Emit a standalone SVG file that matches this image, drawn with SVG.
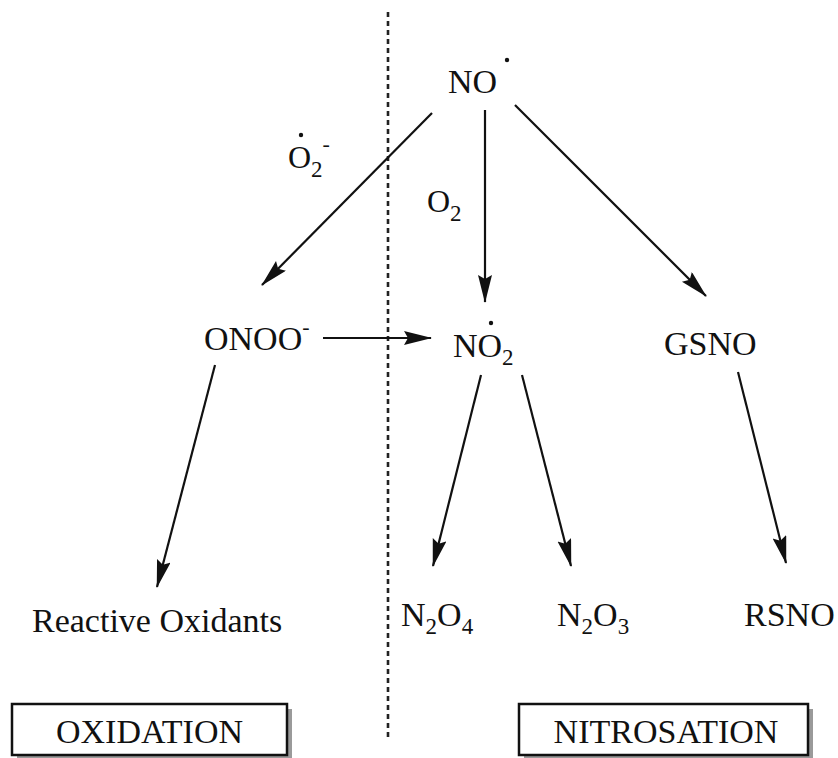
<svg xmlns="http://www.w3.org/2000/svg" width="838" height="758" viewBox="0 0 838 758">
<style>
text{font-family:"Liberation Serif","DejaVu Serif","Times New Roman",serif;font-size:34px;fill:#111}
.sub{font-size:23px}
.sup{font-size:22px}
.arr{stroke:#111;stroke-width:2.2;fill:none;marker-end:url(#ah)}
.box{fill:#fff;stroke:#111;stroke-width:2.5}
.shadow{fill:#9a9a9a}
.dot{fill:#111}
</style>
<defs>
<marker id="ah" markerUnits="userSpaceOnUse" markerWidth="30" markerHeight="16" refX="27" refY="7" orient="auto">
<path d="M0,0 L28,7 L0,14 L4,7 Z" fill="#111"/>
</marker>
</defs>
<rect width="838" height="758" fill="#fff"/>
<line id="divider" x1="388" y1="12" x2="388" y2="738" stroke="#222" stroke-width="2.6" stroke-dasharray="5 4"/>
<g id="connectors">
<line class="arr" x1="432" y1="113" x2="262" y2="285"/>
<line class="arr" x1="485" y1="110" x2="485" y2="302"/>
<line class="arr" x1="515" y1="105" x2="706" y2="296"/>
<line class="arr" x1="323" y1="338" x2="431" y2="338"/>
<line class="arr" x1="215" y1="365" x2="157" y2="587"/>
<line class="arr" x1="481" y1="375" x2="433" y2="566"/>
<line class="arr" x1="522" y1="375" x2="571" y2="566"/>
<line class="arr" x1="738" y1="372" x2="786" y2="563"/>
</g>
<g id="NO">
<text x="448" y="93">NO</text>
<circle class="dot" cx="507" cy="60" r="2.2"/>
</g>
<g id="O2minus">
<text x="288" y="168" style="font-size:32px">O<tspan class="sub" dy="9">2</tspan><tspan class="sup" dy="-26">-</tspan></text>
<circle class="dot" cx="301" cy="135" r="2.2"/>
</g>
<g id="O2">
<text x="427" y="212" style="font-size:32px">O<tspan class="sub" dy="9">2</tspan></text>
</g>
<g id="ONOO">
<text x="204" y="350">ONOO<tspan class="sup" dy="-16">-</tspan></text>
</g>
<g id="NO2">
<text x="453" y="357">NO<tspan class="sub" dy="8">2</tspan></text>
<circle class="dot" cx="491" cy="323" r="2.2"/>
</g>
<g id="GSNO">
<text x="664" y="355">GSNO</text>
</g>
<g id="ReactiveOxidants">
<text x="32" y="632">Reactive Oxidants</text>
</g>
<g id="N2O4">
<text x="401" y="626">N<tspan class="sub" dy="8">2</tspan><tspan dy="-8">O</tspan><tspan class="sub" dy="8">4</tspan></text>
</g>
<g id="N2O3">
<text x="557" y="626">N<tspan class="sub" dy="8">2</tspan><tspan dy="-8">O</tspan><tspan class="sub" dy="8">3</tspan></text>
</g>
<g id="RSNO">
<text x="744" y="626">RSNO</text>
</g>
<g id="OXIDATION">
<rect class="shadow" x="17" y="709" width="275" height="51"/>
<rect class="box" x="12" y="704" width="275" height="51"/>
<text x="149.5" y="743" text-anchor="middle">OXIDATION</text>
</g>
<g id="NITROSATION">
<rect class="shadow" x="524" y="709" width="289" height="51"/>
<rect class="box" x="519" y="704" width="289" height="51"/>
<text x="666" y="743" text-anchor="middle">NITROSATION</text>
</g>
</svg>
